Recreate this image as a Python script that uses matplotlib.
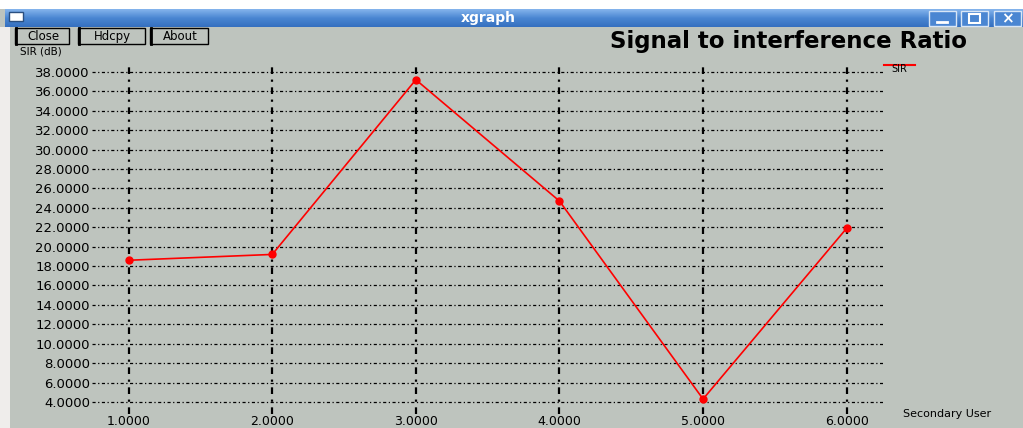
import numpy as np
import matplotlib
matplotlib.use('Agg')
import matplotlib.pyplot as plt
import matplotlib.patches as patches
from matplotlib.colors import LinearSegmentedColormap

# SIR (dB) seen by each secondary user
users = [1, 2, 3, 4, 5, 6]
sir_db = [18.6, 19.2, 37.2, 24.7, 4.3, 21.9]

x_ticks = [1, 2, 3, 4, 5, 6]
y_ticks = list(range(4, 39, 2))

W, H = 1023, 428
bg = '#bec4be'

fig = plt.figure(figsize=(W / 100, H / 100), dpi=100)

# window frame drawn in pixel coordinates
frame = fig.add_axes([0, 0, 1, 1])
frame.axis('off')
frame.add_patch(patches.Rectangle((0, 0), W, H, facecolor=bg, edgecolor='none', zorder=0))
frame.add_patch(patches.Rectangle((0, 0), W, 9, facecolor='white', edgecolor='none', zorder=0.5))
frame.add_patch(patches.Rectangle((0, 27), 10, H - 27, facecolor='#efedeb', edgecolor='none', zorder=0.5))

bar_cmap = LinearSegmentedColormap.from_list('bar', ['#84b4ec', '#4a86d2', '#3570c0'])
grad = np.linspace(0, 1, 30).reshape(-1, 1)
frame.imshow(grad, extent=(5, W, 27, 9), cmap=bar_cmap, aspect='auto', zorder=1)

# window icon and title-bar buttons
frame.add_patch(patches.Rectangle((9, 12), 14, 9, facecolor='white', edgecolor='#2a4f80', lw=1, zorder=2))
for bx in [929, 961, 994]:
    frame.add_patch(patches.Rectangle((bx, 11), 27, 15, facecolor='#4a86d2', edgecolor='#d8e6f6', lw=1, zorder=2))
frame.plot([937, 947], [22, 22], color='white', lw=2, zorder=3)
frame.add_patch(patches.Rectangle((969, 14), 11, 9, facecolor='none', edgecolor='white', lw=1.5, zorder=3))
frame.text(1007, 18.5, '×', color='white', fontsize=11, fontweight='bold', ha='center', va='center')
frame.text(488, 17.5, 'xgraph', color='white', fontsize=10, fontweight='bold', ha='center', va='center')

# xgraph command buttons
for (x0, x1, label) in [(15, 69, 'Close'), (78, 145, 'Hdcpy'), (150, 208, 'About')]:
    frame.add_patch(patches.Rectangle((x0, 28), x1 - x0, 16, facecolor=bg, edgecolor='black', lw=1, zorder=2))
    frame.plot([x0 + 1, x0 + 1], [28, 44], color='black', lw=2, zorder=3)
    frame.text((x0 + x1) / 2 + 1, 36, label, fontsize=8.5, ha='center', va='center')

frame.text(20, 51, 'SIR (dB)', fontsize=7.5, ha='left', va='center')
frame.text(789, 41.5, 'Signal to interference Ratio', fontsize=16.5, fontweight='bold',
           ha='center', va='center')
frame.text(903, 414, 'Secondary User', fontsize=8, ha='left', va='center')

# legend entry
frame.plot([884, 915], [64.5, 64.5], color='red', lw=1.5)
frame.text(899, 69, 'SIR', fontsize=7, ha='center', va='center')

frame.set_xlim(0, W)
frame.set_ylim(H, 0)

# plot area
left, right, top, bottom = 92, 883, 64, 414
ax = fig.add_axes([left / W, 1 - bottom / H, (right - left) / W, (bottom - top) / H])
ax.patch.set_alpha(0)
for s in ax.spines.values():
    s.set_visible(False)

ax.set_xlim(0.745, 6.253)
ax.set_ylim(2.76, 38.82)
ax.set_xticks(x_ticks)
ax.set_yticks(y_ticks)
ax.set_xticklabels(['%.4f' % v for v in x_ticks])
ax.set_yticklabels(['%.4f' % v for v in y_ticks])
ax.tick_params(axis='both', length=0, labelsize=9.5)
ax.tick_params(axis='x', pad=0.5, labelsize=9)
ax.tick_params(axis='y', pad=1.5)

ax.xaxis.grid(True, color='black', lw=1.6, ls=(0, (3, 2.5, 1, 2.5)))
ax.yaxis.grid(True, color='black', lw=0.9, ls=(0, (2.5, 2, 1, 2)))
ax.set_axisbelow(True)

ax.plot(users, sir_db, color='red', lw=1.2, marker='o', markersize=5,
        markerfacecolor='red', markeredgecolor='red', clip_on=False, zorder=3)

fig.savefig('out.png', dpi=100)
